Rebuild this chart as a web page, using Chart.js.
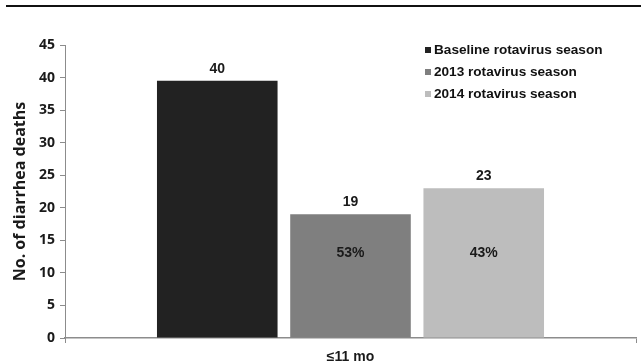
<!DOCTYPE html>
<html>
<head>
<meta charset="utf-8">
<script src="https://cdn.jsdelivr.net/npm/chart.js@4.4.1/dist/chart.umd.min.js"></script>
<style>
  html, body { margin: 0; padding: 0; background: #fff; }
  #wrap { position: relative; width: 641px; height: 364px; }
  #rule { position: absolute; left: 6px; right: 0; top: 5px; height: 2px; background: #111; }
</style>
</head>
<body>
<div id="wrap">
  <div id="rule"></div>
  <canvas id="chart" width="641" height="364"></canvas>
</div>
<script>
// Data
const categories = ['≤11 mo'];
const seasonNames = ['Baseline rotavirus season', '2013 rotavirus season', '2014 rotavirus season'];
const deaths = [39.5, 19, 23];
const shownCounts = ['40', '19', '23'];
const reductions = ['', '53%', '43%'];
const yTicks = [0, 5, 10, 15, 20, 25, 30, 35, 40, 45];

const BAR_COLORS = ['#222222', '#7f7f7f', '#bdbdbd'];
const AXIS_GREY = '#8c8c8c';
const SANS = '"Liberation Sans", Arial, sans-serif';

// Value above each bar, reduction percentage inside
const barLabels = {
  id: 'barLabels',
  afterDatasetsDraw(chart) {
    const { ctx, scales } = chart;
    ctx.save();
    ctx.textAlign = 'center';
    ctx.textBaseline = 'middle';
    ctx.fillStyle = '#1a1a1a';
    ctx.font = 'bold 14px ' + SANS;
    chart.data.datasets.forEach((ds, i) => {
      const bar = chart.getDatasetMeta(i).data[0];
      if (!bar) return;
      ctx.fillText(shownCounts[i], bar.x, bar.y - 12);
      if (reductions[i]) ctx.fillText(reductions[i], bar.x, scales.y.getPixelForValue(13.1));
    });
    ctx.restore();
  },
};

// Small square legend, top right inside the plot
const cornerLegend = {
  id: 'cornerLegend',
  afterDraw(chart) {
    const { ctx } = chart;
    const x = 425, y0 = 50, step = 22;
    ctx.save();
    ctx.font = 'bold 13.6px ' + SANS;
    ctx.textBaseline = 'middle';
    ctx.textAlign = 'left';
    chart.data.datasets.forEach((ds, i) => {
      const y = y0 + i * step;
      ctx.fillStyle = ds.backgroundColor;
      ctx.fillRect(x, y - 3, 6, 6);
      ctx.fillStyle = '#111';
      ctx.fillText(ds.label, x + 9, y + 0.5);
    });
    ctx.restore();
  },
};

new Chart(document.getElementById('chart'), {
  type: 'bar',
  data: {
    labels: categories,
    datasets: seasonNames.map((name, i) => ({
      label: name,
      data: [deaths[i]],
      backgroundColor: BAR_COLORS[i],
      borderWidth: 0,
      barPercentage: 0.905,
      categoryPercentage: 0.70,
    })),
  },
  options: {
    responsive: false,
    animation: false,
    layout: { padding: { top: 45, right: 5, left: 0, bottom: 0 } },
    plugins: { legend: { display: false }, tooltip: { enabled: false } },
    scales: {
      x: {
        offset: true,
        grid: { offset: true, drawOnChartArea: false, color: AXIS_GREY, tickLength: 5 },
        border: { color: AXIS_GREY, width: 1.5 },
        ticks: {
          color: '#1a1a1a',
          padding: 6,
          font: { family: SANS, size: 14, weight: 'bold' },
        },
        afterFit(s) { s.height = 26; },
      },
      y: {
        min: 0,
        max: 45,
        afterBuildTicks(s) { s.ticks = yTicks.map(v => ({ value: v })); },
        grid: { drawOnChartArea: false, color: AXIS_GREY, tickLength: 5 },
        border: { color: AXIS_GREY, width: 1 },
        ticks: {
          color: '#1a1a1a',
          padding: 5,
          font: { family: '"Open Sans", sans-serif', size: 14, weight: 700 },
        },
        title: {
          display: true,
          text: 'No. of diarrhea deaths',
          color: '#1a1a1a',
          padding: { top: 11, bottom: 0 },
          font: { family: '"Open Sans", sans-serif', size: 16, weight: 700 },
        },
        afterFit(s) { s.width = 65; },
      },
    },
  },
  plugins: [barLabels, cornerLegend],
});
</script>
</body>
</html>
